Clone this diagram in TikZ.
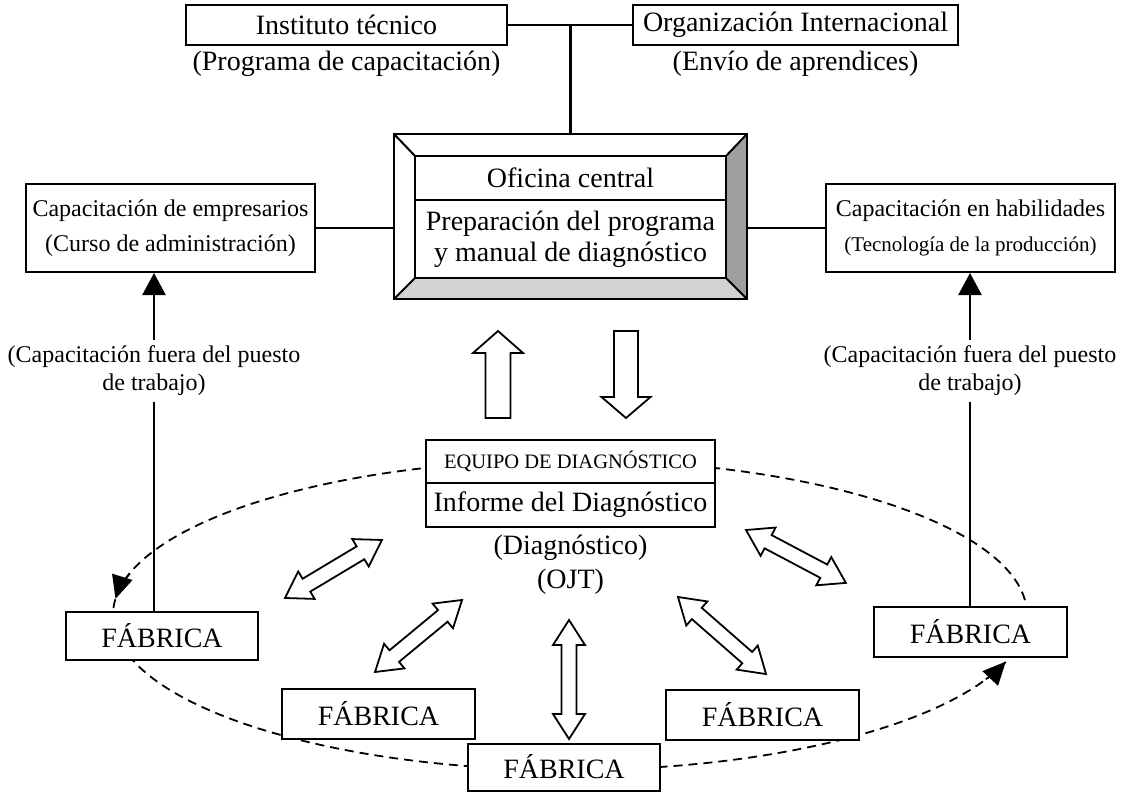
\documentclass[tikz,border=0pt]{standalone}
\usepackage{fontspec}
\setmainfont{Liberation Serif}
\usetikzlibrary{calc,arrows.meta}

\begin{document}
\begin{tikzpicture}[x=1pt,y=1pt,
  box/.style={draw, line width=2pt, fill=white, inner sep=0pt, align=center},
  txtbig/.style={font=\fontsize{28}{31}\selectfont},
  txtmid/.style={font=\fontsize{24}{35}\selectfont},
  txtlbl/.style={font=\fontsize{24}{28}\selectfont, align=center, inner sep=6pt},
  txtcaps/.style={font=\fontsize{20.5}{24}\selectfont},
  conn/.style={line width=2.4pt},
  headarrow/.style={-{Triangle[length=22pt,width=23pt]}},
  orbit/.style={line width=1.8pt, dash pattern=on 9pt off 6pt},
  orbithead/.style={line width=1.8pt, -{Triangle[length=23pt,width=21pt]}},
  blockarrow/.style={draw, line width=1.8pt, fill=white, line join=miter},
  pics/dblarrow/.style={code={
    \draw[blockarrow] (0,0) -- (25,16) -- (25,7.5) -- (#1-25,7.5) -- (#1-25,16)
      -- (#1,0) -- (#1-25,-16) -- (#1-25,-7.5) -- (25,-7.5) -- (25,-16) -- cycle;}}
]
\useasboundingbox (0,0) rectangle (1123,-792);

% circuit of the diagnosis team through the factories
\draw[orbit] (570,-615) ellipse [x radius=457pt, y radius=155pt];
\draw[orbithead] ($(570,-615)+(164.5:457pt and 155pt)$)
  arc[start angle=164.5, end angle=174, x radius=457pt, y radius=155pt];
\draw[orbithead] ($(570,-615)+(-24.5:457pt and 155pt)$)
  arc[start angle=-24.5, end angle=-17.5, x radius=457pt, y radius=155pt];

% top partners
\node[box, txtbig, minimum width=321pt, minimum height=40pt] (inst) at (346.5,-25) {Instituto técnico};
\node[box, txtbig, minimum width=325pt, minimum height=40pt] (org) at (795.5,-25) {Organización Internacional};
\node[txtbig] (instnote) at (346.5,-64) {(Programa de capacitación)};
\node[txtbig] (orgnote) at (795.5,-64) {(Envío de aprendices)};

% head office with bevelled frame
\node[minimum width=353pt, minimum height=165pt, inner sep=0pt] (hq) at (570.5,-216.5) {};
\fill[white] (394,-134) rectangle (747,-299);
\fill[gray!75] (747,-134) -- (747,-299) -- (726,-278) -- (726,-156) -- cycle;
\fill[gray!35] (394,-299) -- (747,-299) -- (726,-278) -- (415,-278) -- cycle;
\begin{scope}[line width=2pt]
  \draw (394,-134) rectangle (747,-299);
  \draw (415,-156) rectangle (726,-278);
  \draw (394,-134) -- (415,-156);
  \draw (747,-134) -- (726,-156);
  \draw (394,-299) -- (415,-278);
  \draw (747,-299) -- (726,-278);
  \draw (415,-200) -- (726,-200);
\end{scope}
\node[txtbig] (hqtitle) at (570.5,-178) {Oficina central};
\node[txtbig, align=center] (hqtask) at (570.5,-239) {Preparación del programa\\y manual de diagnóstico};

% training courses
\node[box, txtmid, minimum width=289pt, minimum height=88pt] (capE) at (170.5,-228)
  {Capacitación de empresarios\\(Curso de administración)};
\node[box, txtmid, minimum width=289pt, minimum height=88pt] (capH) at (970.5,-228)
  {Capacitación en habilidades\\{\fontsize{21}{35}\selectfont(Tecnología de la producción)}};

% top connections
\draw[conn] (inst.east) -- (org.west);
\draw[conn] (hq.north) -- (hq.north |- org.west);
\draw[conn] (capE.east) -- (capE.east -| hq.west);
\draw[conn] (hq.east |- capH.west) -- (capH.west);

% exchange between head office and team
\draw[blockarrow] (498,-331) -- (523,-353) -- (510.5,-353) -- (510.5,-418)
  -- (485.5,-418) -- (485.5,-353) -- (473,-353) -- cycle;
\draw[blockarrow] (626,-418) -- (650.5,-397) -- (638,-397) -- (638,-331)
  -- (614,-331) -- (614,-397) -- (601.5,-397) -- cycle;

% diagnosis team
\node[box, txtcaps, minimum width=289pt, minimum height=43pt] (teamhead) at (570.5,-461.5) {EQUIPO DE DIAGNÓSTICO};
\node[box, txtbig, minimum width=289pt, minimum height=44pt] (teambody) at (570.5,-505) {Informe del Diagnóstico};
\node[txtbig, align=center, font=\fontsize{28}{34}\selectfont] (diag) at (570.5,-565) {(Diagnóstico)\\(OJT)};

% factories
\node[box, txtbig, minimum width=192pt, minimum height=48pt] (fabL) at (162,-636) {FÁBRICA};
\node[box, txtbig, minimum width=193pt, minimum height=50pt] (fabB) at (378.5,-714) {FÁBRICA};
\node[box, txtbig, minimum width=192pt, minimum height=47pt] (fabC) at (564,-767) {FÁBRICA};
\node[box, txtbig, minimum width=193pt, minimum height=50pt] (fabD) at (762.5,-715) {FÁBRICA};
\node[box, txtbig, minimum width=193pt, minimum height=50pt] (fabR) at (970.5,-632) {FÁBRICA};

% two-way exchange between team and factories
\pic[rotate=30.9] at (285,-598) {dblarrow=113};
\pic[rotate=39.6] at (375,-672) {dblarrow=113};
\pic[rotate=90] at (569,-739) {dblarrow=119};
\pic[rotate=-41.2] at (678,-597) {dblarrow=117};
\pic[rotate=-27.9] at (746,-530) {dblarrow=113};

% off-the-job training paths
\node[txtlbl] (lblL) at (154,-371) {(Capacitación fuera del puesto\\de trabajo)};
\node[txtlbl] (lblR) at (970,-371) {(Capacitación fuera del puesto\\de trabajo)};
\draw[conn] (fabL.north -| lblL.south) -- (lblL.south);
\draw[conn, headarrow] (lblL.north) -- (lblL.north |- capE.south);
\draw[conn] (fabR.north -| lblR.south) -- (lblR.south);
\draw[conn, headarrow] (lblR.north) -- (lblR.north |- capH.south);
\end{tikzpicture}
\end{document}
